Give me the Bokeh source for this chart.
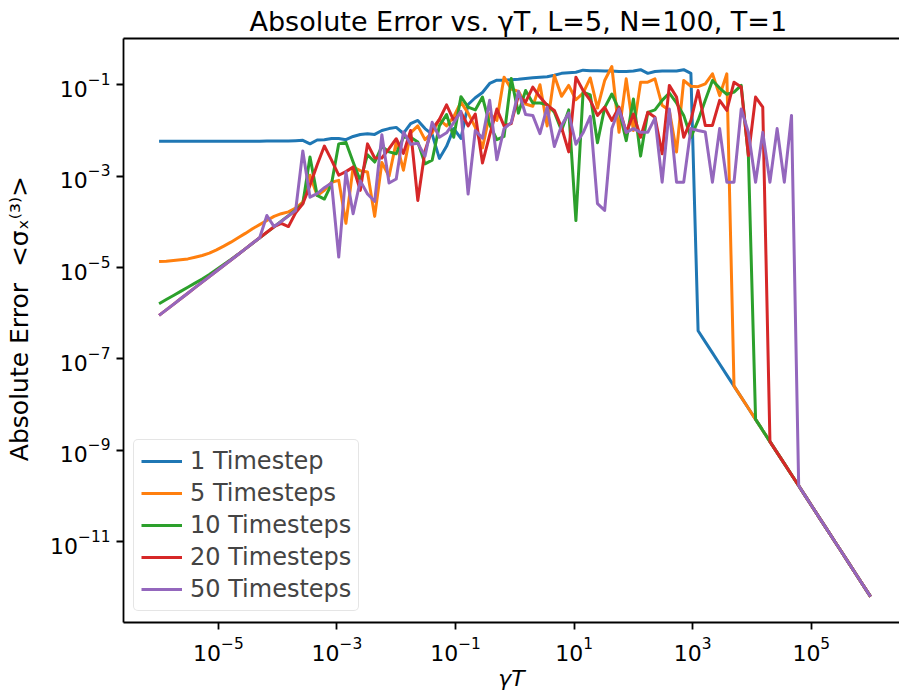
from bokeh.plotting import figure
from bokeh.models import FixedTicker, LogAxis, Range1d
from bokeh.embed import file_html
from bokeh.resources import INLINE

# gamma*T grid (log-spaced, 100 points from 1e-6 to 1e6)
gamma_T = [
    1.000e-6, 1.322e-6, 1.748e-6, 2.310e-6, 3.054e-6, 4.037e-6, 5.337e-6, 7.055e-6,
    9.326e-6,
    1.233e-5, 1.630e-5, 2.154e-5, 2.848e-5, 3.765e-5, 4.977e-5, 6.579e-5, 8.697e-5,
    1.150e-4, 1.520e-4, 2.009e-4, 2.656e-4, 3.511e-4, 4.642e-4, 6.136e-4, 8.111e-4,
    1.072e-3, 1.417e-3, 1.874e-3, 2.477e-3, 3.275e-3, 4.329e-3, 5.722e-3, 7.565e-3,
    1.000e-2, 1.322e-2, 1.748e-2, 2.310e-2, 3.054e-2, 4.037e-2, 5.337e-2, 7.055e-2,
    9.326e-2,
    1.233e-1, 1.630e-1, 2.154e-1, 2.848e-1, 3.765e-1, 4.977e-1, 6.579e-1, 8.697e-1,
    1.150e0, 1.520e0, 2.009e0, 2.656e0, 3.511e0, 4.642e0, 6.136e0, 8.111e0,
    1.072e1, 1.417e1, 1.874e1, 2.477e1, 3.275e1, 4.329e1, 5.722e1, 7.565e1,
    1.000e2, 1.322e2, 1.748e2, 2.310e2, 3.054e2, 4.037e2, 5.337e2, 7.055e2,
    9.326e2,
    1.233e3, 1.630e3, 2.154e3, 2.848e3, 3.765e3, 4.977e3, 6.579e3, 8.697e3,
    1.150e4, 1.520e4, 2.009e4, 2.656e4, 3.511e4, 4.642e4, 6.136e4, 8.111e4,
    1.072e5, 1.417e5, 1.874e5, 2.477e5, 3.275e5, 4.329e5, 5.722e5, 7.565e5,
    1.000e6,
]

# common large-gammaT tail (points 75..99)
tail = [
    4.15e-7, 2.37e-7, 1.36e-7, 7.78e-8, 4.45e-8, 2.55e-8, 1.46e-8, 8.34e-9, 4.77e-9, 2.73e-9,
    1.56e-9, 8.94e-10, 5.12e-10, 2.93e-10, 1.68e-10, 9.59e-11, 5.49e-11, 3.14e-11, 1.80e-11, 1.03e-11,
    5.89e-12, 3.37e-12, 1.93e-12, 1.10e-12, 6.31e-13,
]

err_1_head = [
    5.8e-3, 5.8e-3, 5.8e-3, 5.8e-3, 5.8e-3, 5.8e-3, 5.8e-3, 5.8e-3, 5.8e-3, 5.8e-3,
    5.8e-3, 5.8e-3, 5.8e-3, 5.8e-3, 5.8e-3, 5.9e-3, 5.9e-3, 5.9e-3, 5.9e-3, 6.0e-3,
    6.1e-3, 5.1e-3, 6.2e-3, 6.3e-3, 6.7e-3, 6.7e-3, 6.3e-3, 7.4e-3, 8.2e-3, 8.5e-3,
    8.2e-3, 1.0e-2, 1.1e-2, 1.17e-2, 8.6e-3, 1.41e-2, 1.66e-2, 1.1e-2, 8.2e-3, 2.45e-3,
    4.5e-3, 1.1e-2, 6.7e-3, 3.7e-2, 5.2e-2, 6.8e-2, 0.107, 0.126, 0.126, 0.129,
    0.132, 0.138, 0.143, 0.146, 0.150, 0.162, 0.178, 0.184, 0.188, 0.209,
    0.204, 0.204, 0.200, 0.200, 0.195, 0.195, 0.200, 0.214, 0.178, 0.195,
    0.200, 0.200, 0.200, 0.214, 0.178,
]
err_5_head = [
    1.36e-5, 1.38e-5, 1.43e-5, 1.49e-5, 1.55e-5, 1.69e-5, 1.84e-5, 2.07e-5, 2.45e-5, 2.95e-5,
    3.6e-5, 4.5e-5, 5.6e-5, 7.1e-5, 8.7e-5, 1.07e-4, 1.32e-4, 1.51e-4, 1.66e-4, 2.0e-4,
    2.7e-4, 1.05e-3, 3.8e-4, 4.9e-4, 7.4e-4, 8.1e-4, 9.3e-5, 1.58e-3, 1.32e-3, 1.23e-3,
    1.32e-4, 2.0e-3, 1.0e-3, 5.6e-3, 1.35e-3, 8.9e-3, 1.26e-2, 6.3e-3, 8.9e-3, 1.74e-2,
    1.26e-2, 2.0e-2, 4.17e-2, 2.4e-2, 1.17e-2, 4.17e-3, 2.32e-2, 1.66e-2, 0.147, 8.1e-2,
    7.2e-2, 3.8e-2, 3.4e-2, 0.100, 1.26e-2, 0.160, 5.6e-2, 9.7e-2, 4.7e-2, 6.6e-2,
    0.141, 3.1e-2, 0.124, 0.251, 9.1e-3, 0.135, 1.0e-2, 0.114, 0.114, 0.135,
    3.55e-2, 2.75e-2, 3.4e-3, 0.124, 9.3e-2, 9.1e-2, 0.105, 0.174, 5.8e-2, 0.174,
]
err_10_head = [
    1.62e-6, 2.0e-6, 2.45e-6, 3.02e-6, 3.72e-6, 4.57e-6, 5.62e-6, 7.08e-6, 9.12e-6, 1.17e-5,
    1.51e-5, 1.95e-5, 2.57e-5, 3.39e-5, 4.47e-5, 5.9e-5, 7.8e-5, 1.04e-4, 1.36e-4, 1.82e-4,
    2.5e-4, 2.63e-3, 3.8e-4, 3.16e-4, 6.8e-4, 5.1e-3, 5.5e-3, 2.04e-3, 7.9e-4, 2.95e-3,
    2.04e-3, 4.47e-3, 3.4e-3, 3.1e-3, 7.1e-3, 7.1e-3, 5.6e-3, 1.86e-3, 2.24e-3, 1.26e-2,
    2.24e-2, 7.1e-3, 5.5e-2, 3.24e-2, 2.82e-2, 5.4e-2, 1.35e-2, 6.3e-3, 7.4e-3, 0.138,
    2.4e-2, 7.5e-2, 4.0e-2, 4.0e-2, 3.7e-2, 2.5e-2, 1.0e-2, 2.82e-2, 1.07e-4, 6.9e-2,
    6.0e-2, 5.4e-3, 3.16e-2, 6.3e-2, 2.82e-2, 6.0e-3, 4.9e-2, 2.75e-3, 2.5e-2, 2.82e-2,
    4.57e-2, 6.6e-2, 4.0e-2, 2.14e-2, 7.1e-3, 1.66e-2, 4.57e-2, 0.124, 8.5e-2, 6.2e-2,
    6.9e-2, 9.7e-2, 2.75e-3,
]
err_20_head = [
    9.0e-7, 1.19e-6, 1.57e-6, 2.08e-6, 2.75e-6, 3.64e-6, 4.81e-6, 6.36e-6, 8.41e-6, 1.11e-5,
    1.47e-5, 1.94e-5, 2.57e-5, 3.40e-5, 4.49e-5, 5.93e-5, 7.84e-5, 9.3e-5, 7.9e-5, 1.58e-4,
    2.5e-4, 6.3e-4, 1.78e-3, 4.57e-3, 2.24e-3, 1.05e-3, 1.26e-3, 1.58e-3, 4.9e-4, 5.1e-3,
    2.5e-3, 2.5e-3, 4.0e-3, 6.6e-3, 3.16e-3, 1.0e-2, 2.95e-4, 3.55e-3, 1.07e-2, 1.74e-2,
    3.63e-2, 1.66e-2, 2.5e-2, 1.26e-2, 2.29e-2, 1.95e-3, 7.9e-3, 2.95e-2, 1.26e-2, 1.41e-2,
    5.9e-2, 4.17e-2, 8.9e-2, 5.4e-2, 3.55e-2, 2.75e-2, 1.17e-2, 3.4e-3, 0.147, 7.5e-2,
    4.57e-2, 2.14e-2, 3.24e-2, 1.66e-2, 3.24e-2, 9.1e-3, 2.29e-2, 7.1e-3, 2.5e-2, 1.95e-2,
    3.1e-3, 9.7e-2, 5.4e-2, 7.1e-3, 1.66e-2, 7.5e-2, 1.29e-2, 1.29e-2, 4.57e-2, 2.75e-2,
    0.114, 8.9e-2, 2.82e-3, 5.4e-2, 3.24e-2,
]
err_50_head = [
    9.0e-7, 1.19e-6, 1.57e-6, 2.08e-6, 2.75e-6, 3.64e-6, 4.81e-6, 6.36e-6, 8.41e-6, 1.11e-5,
    1.47e-5, 1.94e-5, 2.57e-5, 3.40e-5, 4.49e-5, 1.38e-4, 7.9e-5, 1.02e-4, 1.35e-4, 1.78e-4,
    3.55e-3, 3.47e-4, 4.17e-4, 5.6e-4, 7.1e-4, 1.7e-5, 1.23e-3, 1.51e-4, 7.9e-4, 4.07e-4,
    2.82e-4, 8.1e-3, 7.1e-4, 8.7e-4, 9.3e-3, 5.0e-3, 5.25e-3, 2.75e-3, 1.51e-2, 7.1e-3,
    8.9e-3, 1.48e-2, 2.63e-2, 4.07e-4, 1.0e-2, 6.8e-3, 4.57e-2, 2.29e-3, 1.1e-2, 1.48e-2,
    7.2e-2, 2.24e-2, 2.14e-2, 8.5e-3, 3.24e-2, 4.47e-3, 1.29e-2, 2.4e-2, 5.0e-3, 8.9e-3,
    2.04e-2, 2.5e-4, 1.78e-4, 1.1e-2, 2.95e-2, 9.1e-3, 1.1e-2, 9.1e-3, 9.1e-3, 1.86e-2,
    7.4e-4, 2.95e-2, 7.4e-4, 7.4e-4, 1.1e-2, 1.0e-2, 9.3e-3, 7.4e-4, 1.1e-2, 7.4e-4,
    7.4e-4, 2.95e-2, 9.1e-3, 7.4e-4, 9.1e-3, 7.4e-4, 1.1e-2, 7.4e-4, 2.14e-2,
]

err_1 = err_1_head + tail
err_5 = err_5_head + tail[5:]
err_10 = err_10_head + tail[8:]
err_20 = err_20_head + tail[10:]
err_50 = err_50_head + tail[14:]

series_labels = ["1 Timestep", "5 Timesteps", "10 Timesteps", "20 Timesteps", "50 Timesteps"]
series_values = [err_1, err_5, err_10, err_20, err_50]
colors = ["#1f77b4", "#ff7f0e", "#2ca02c", "#d62728", "#9467bd"]

x_ticks = [1e-5, 1e-3, 1e-1, 1e1, 1e3, 1e5]
y_ticks = [1e-11, 1e-9, 1e-7, 1e-5, 1e-3, 1e-1]

FONT = "DejaVu Sans"

p = figure(
    width=899, height=697,
    x_axis_type="log", y_axis_type="log",
    x_range=Range1d(10 ** -6.6, 10 ** 6.488),
    y_range=Range1d(10 ** -12.766, 10 ** 0.013),
    output_backend="svg", toolbar_location=None,
    title="Absolute Error vs. γT, L=5, N=100, T=1",
)
p.min_border_left = 123
p.min_border_right = 0
p.min_border_top = 38
p.min_border_bottom = 75
p.background_fill_color = "white"
p.border_fill_color = "white"
p.outline_line_color = None
p.xgrid.visible = False
p.ygrid.visible = False

p.title.align = "left"
p.title.offset = 126
p.title.text_font = FONT
p.title.text_font_size = "27px"
p.title.text_font_style = "normal"
p.title.text_color = "black"
p.title.standoff = 4

for lab, vals, col in zip(series_labels, series_values, colors):
    p.line(gamma_T, vals, line_color=col, line_width=3, line_join="round",
           legend_label=lab)

for ax in (p.xaxis[0], p.yaxis[0]):
    ax.axis_line_color = "black"
    ax.axis_line_width = 1.8
    ax.major_tick_line_color = "black"
    ax.major_tick_line_width = 1.8
    ax.major_tick_out = 7
    ax.major_tick_in = 0
    ax.minor_tick_line_color = None
    ax.major_label_text_font = FONT
    ax.major_label_text_font_size = "22px"
    ax.major_label_text_color = "black"
    ax.axis_label_text_font = FONT
    ax.axis_label_text_color = "black"

p.xaxis.ticker = FixedTicker(ticks=x_ticks, minor_ticks=[])
p.yaxis.ticker = FixedTicker(ticks=y_ticks, minor_ticks=[])
p.xaxis.axis_label = "γT"
p.xaxis.axis_label_text_font_size = "22px"
p.xaxis.axis_label_text_font_style = "italic"
p.xaxis.axis_label_standoff = 2
p.xaxis.major_label_standoff = 7
p.yaxis.axis_label = "\u00a0\u00a0\u00a0Absolute Error\u00a0 <σₓ⁽³⁾>"
p.yaxis.axis_label_text_font_size = "25px"
p.yaxis.axis_label_text_font_style = "normal"
p.yaxis.axis_label_standoff = 13
p.yaxis.major_label_standoff = 6

# top spine
top = LogAxis(ticker=FixedTicker(ticks=[], minor_ticks=[]),
              axis_line_color="black", axis_line_width=1.8,
              major_tick_line_color=None, minor_tick_line_color=None,
              major_label_text_font_size="0px")
p.add_layout(top, "above")

leg = p.legend[0]
leg.location = (10, 11)
leg.label_text_font = FONT
leg.label_text_font_size = "24px"
leg.glyph_width = 41
leg.glyph_height = 24
leg.label_height = 24
leg.label_standoff = 8
leg.spacing = 4
leg.padding = 7
leg.margin = 0
leg.border_line_color = "#cccccc"
leg.border_line_width = 1.5
leg.border_radius = 5
leg.background_fill_color = "white"
leg.background_fill_alpha = 0.8

open("out.html", "w").write(file_html(p, INLINE))
